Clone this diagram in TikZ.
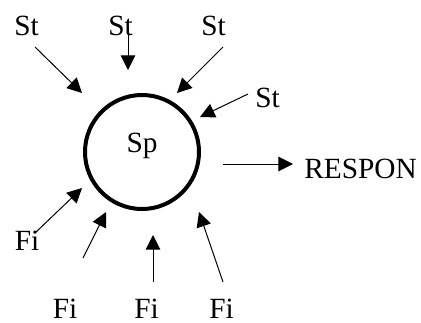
\documentclass[tikz,border=0pt]{standalone}
\usepackage{fontspec}
\setmainfont{Liberation Serif}
\usetikzlibrary{arrows.meta}
\begin{document}
\begin{tikzpicture}[x=0.75pt,y=-0.75pt,
  lbl/.style={font=\fontsize{22}{26}\selectfont, anchor=base, inner sep=0pt},
  arr/.style={line width=0.75pt, -{Triangle[length=11pt,width=11pt]}}]
\useasboundingbox (0,0) rectangle (421,322);
\node[circle, draw, line width=3pt, minimum size=114*0.75pt, inner sep=0pt] (sp) at (142,152) {};
\node[lbl] (sptext) at (142,152) {Sp};
% St labels
\node[lbl] (st1) at (26.5,35) {St};
\node[lbl] (st2) at (120.5,35) {St};
\node[lbl] (st3) at (213.5,35) {St};
\node[lbl] (st4) at (267.5,107) {St};
\node[lbl, anchor=base west] (resp) at (304,178) {RESPON};
% Fi labels
\node[lbl] (fi1) at (27,250) {Fi};
\node[lbl] (fi2) at (65,318.5) {Fi};
\node[lbl] (fi3) at (146.5,318.5) {Fi};
\node[lbl] (fi4) at (221.5,318.5) {Fi};
% arrow end points
\coordinate (a1s) at (35,47);  \coordinate (a1e) at (82,93);
\coordinate (a2s) at (128,28); \coordinate (a2e) at (128,70);
\coordinate (a3s) at (223,47); \coordinate (a3e) at (177,93);
\coordinate (a4s) at (248,94); \coordinate (a4e) at (200,117);
\coordinate (r1s) at (223,164); \coordinate (r1e) at (293,164);
\coordinate (f1s) at (35,233); \coordinate (f1e) at (82,188);
\coordinate (f2s) at (83,258); \coordinate (f2e) at (106,212);
\coordinate (f3s) at (153,282); \coordinate (f3e) at (153,235);
\coordinate (f4s) at (223,282); \coordinate (f4e) at (199,212);
\draw[arr] (a1s) -- (a1e);
\draw[arr] (a2s) -- (a2e);
\draw[arr] (a3s) -- (a3e);
\draw[arr] (a4s) -- (a4e);
\draw[arr] (r1s) -- (r1e);
\draw[arr] (f1s) -- (f1e);
\draw[arr] (f2s) -- (f2e);
\draw[arr] (f3s) -- (f3e);
\draw[arr] (f4s) -- (f4e);
\end{tikzpicture}
\end{document}
